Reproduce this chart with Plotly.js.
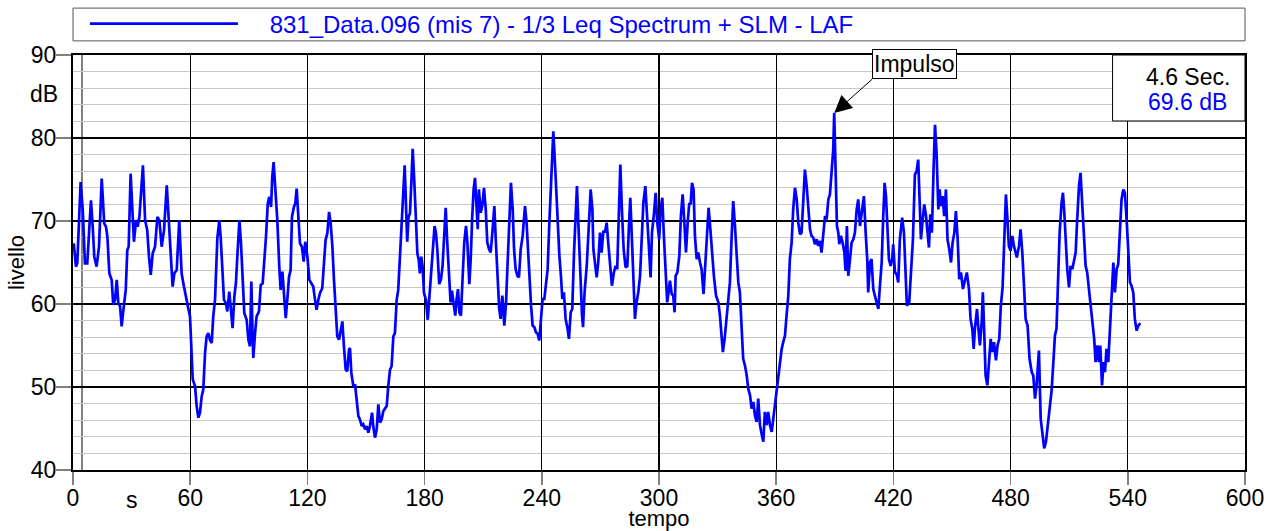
<!DOCTYPE html>
<html><head><meta charset="utf-8">
<script src="https://cdn.plot.ly/plotly-3.0.1.min.js"></script>
<style>html,body{margin:0;padding:0;background:#fff;}#chart{width:1278px;height:531px;}</style>
</head><body><div id="chart"></div>
<script>
// time (s) and level (dB)
const timeS = [
0.4,1.5,2.2,3.9,5.0,6.1,7.3,8.2,9.2,10.1,10.9,12.1,13.3,14.7,16.0,16.9,17.6,18.6,19.8,20.6,21.5,22.4,23.2,24.1,24.9,25.8,27.0,27.8,28.5,29.5,30.4,31.2,32.3,33.1,34.0,34.8,35.8,36.9,38.0,38.9,39.8,40.8,42.0,43.2,44.2,45.4,46.6,48.0,49.0,50.0,51.0,51.9,53.1,54.4,55.6,56.8,57.8,59.0,59.9,60.9,
61.3,62.5,63.3,64.2,65.0,65.9,66.7,67.6,68.4,69.3,70.1,71.0,71.8,72.7,73.9,74.9,75.6,76.4,77.3,78.3,79.0,80.0,80.9,81.7,82.6,83.4,84.3,85.2,86.0,86.9,87.7,88.9,89.8,90.6,91.3,92.0,92.3,93.2,94.0,95.2,96.1,97.1,97.8,98.8,99.7,100.5,101.4,102.0,102.7,103.6,104.6,105.6,106.3,107.2,108.0,108.9,109.7,110.6,111.4,112.1,113.1,113.8,114.5,115.4,116.2,117.2,118.1,118.9,120.0,121.0,
122.2,123.0,123.9,124.7,125.6,126.4,127.6,128.5,129.3,130.2,131.1,131.9,132.8,133.6,134.5,135.3,136.2,137.0,137.9,138.7,139.6,140.4,141.3,141.8,142.5,143.5,144.4,145.2,146.1,146.9,147.8,148.6,149.5,150.3,151.2,152.0,153.1,153.7,154.6,155.5,156.3,157.2,158.0,158.9,160.6,161.4,162.3,163.1,164.0,164.8,165.7,166.5,167.4,168.3,169.1,169.8,170.5,171.1,171.8,172.5,173.2,173.9,174.7,175.6,176.3,177.0,177.6,178.3,179.0,179.7,180.7,181.6,182.4,183.4,184.5,
185.1,185.8,186.5,187.5,188.4,189.2,190.1,190.8,191.6,192.5,193.3,194.0,195.0,195.7,196.4,197.1,197.8,198.6,199.5,200.3,201.2,201.9,202.9,203.6,204.4,205.1,205.8,206.6,207.2,207.8,208.7,209.5,210.4,211.3,212.1,213.0,213.8,214.7,215.7,216.5,217.4,218.2,218.9,219.8,220.8,221.7,222.5,223.4,224.2,225.1,225.8,226.6,227.5,228.3,229.2,230.2,231.4,232.2,233.1,233.9,234.5,235.3,236.2,237.0,237.9,238.7,239.6,240.4,241.3,242.1,243.0,243.8,244.5,245.2,245.9,
246.9,247.9,249.0,249.8,250.5,251.3,252.2,253.2,253.9,254.8,255.6,256.5,257.3,258.0,258.9,259.7,260.6,261.1,261.9,263.0,263.6,264.5,265.0,265.9,266.4,267.2,268.1,268.9,269.8,270.6,271.5,272.3,273.2,274.0,274.9,275.9,276.9,277.8,278.6,279.5,280.2,281.0,281.9,282.9,283.8,284.6,285.3,286.2,286.8,287.7,288.5,289.4,290.3,291.1,292.0,293.0,293.8,294.7,295.7,296.4,297.3,298.3,299.1,300.1,300.8,301.7,302.5,303.4,304.2,304.9,305.6,306.5,307.3,308.0,
308.5,309.4,310.4,311.2,312.1,312.9,313.8,314.7,315.5,316.2,316.9,317.7,318.4,319.3,320.1,321.0,321.8,322.8,323.7,324.6,325.4,326.3,327.1,328.1,329.2,330.4,331.2,332.1,332.7,333.6,334.6,335.5,336.3,337.2,338.0,338.9,339.7,340.6,341.4,342.3,343.1,344.0,344.9,345.7,346.6,347.4,348.3,349.1,350.0,350.8,351.7,352.5,353.4,354.2,355.1,355.9,356.8,357.7,358.5,359.4,360.2,361.1,361.9,362.8,363.6,364.5,365.3,366.2,367.0,367.9,368.7,369.6,
370.5,371.3,372.2,373.0,373.9,374.7,375.6,376.4,377.3,378.1,379.0,379.8,380.7,381.5,382.4,383.2,384.1,385.0,385.8,386.7,387.5,388.4,389.2,389.7,390.4,391.1,391.8,392.3,393.1,394.0,394.9,395.5,396.2,396.9,397.8,398.6,399.5,400.3,401.2,402.0,402.9,403.7,404.9,405.8,406.6,407.1,408.0,408.8,409.7,410.5,411.4,412.3,413.1,414.0,414.8,415.5,416.2,417.0,417.7,418.6,419.4,419.9,420.8,421.6,422.5,423.3,424.5,425.4,426.2,426.9,
428.1,429.0,430.0,431.0,431.9,432.7,433.4,434.1,435.0,435.8,436.7,437.5,438.2,438.9,439.7,440.6,441.3,442.1,443.0,443.7,444.3,445.2,446.0,446.9,447.7,448.6,449.5,450.3,451.2,452.0,452.9,453.7,454.6,455.6,456.6,457.6,458.7,459.5,460.4,461.1,461.7,462.8,463.4,464.3,465.2,465.8,466.5,467.2,468.1,468.9,469.8,470.6,471.5,472.5,473.3,474.2,475.0,475.9,476.8,477.6,478.3,479.1,480.0,480.9,481.7,482.6,483.2,484.3,485.1,486.0,486.8,487.7,488.7,489.7,
490.8,491.6,492.5,493.3,494.5,495.4,496.2,497.2,498.1,498.9,499.8,501.0,502.0,502.7,503.5,504.4,505.1,506.1,506.8,507.5,508.2,509.0,509.9,510.7,511.6,512.6,513.3,514.1,515.0,515.8,516.7,517.5,518.4,519.2,520.3,521.1,522.0,522.8,523.5,524.4,525.2,525.9,526.8,527.6,528.3,529.1,530.0,530.8,531.7,532.6,533.4,534.3,535.1,536.0,536.8,537.7,538.5,539.4,540.2,541.1,541.9,542.8,543.6,544.5,545.4,546.4
];
const levelDb = [
67.3,64.5,64.9,74.7,71.3,64.9,64.9,68.5,72.5,69.3,65.7,64.5,66.9,75.1,69.7,69.3,68.1,63.7,62.9,59.9,60.5,62.9,60.1,59.7,57.3,59.3,61.7,66.5,66.9,75.7,71.7,67.5,70.1,69.3,70.5,73.7,76.7,70.1,68.9,65.7,63.5,66.1,66.9,70.5,70.1,66.9,68.9,74.3,69.7,66.5,62.1,63.7,64.1,70.1,63.7,62.1,61.1,59.5,58.5,53.7,
50.9,50.1,47.7,46.3,46.9,48.9,49.7,54.1,56.1,56.5,55.7,55.3,58.5,60.5,67.9,70.1,68.1,64.5,60.5,60.1,59.1,61.5,59.3,57.1,60.9,62.5,66.5,70.1,67.3,62.5,58.9,58.1,55.7,54.9,62.7,55.7,53.5,56.5,58.5,59.1,62.3,62.5,64.5,68.1,72.1,72.9,71.7,75.3,77.1,73.7,70.1,64.5,61.7,63.9,60.5,58.3,60.5,63.3,64.1,70.5,71.7,72.1,73.9,70.1,67.3,66.9,65.1,67.5,65.7,62.9,
62.5,62.1,60.5,59.3,60.5,61.3,61.9,65.3,67.7,68.5,71.1,69.7,66.9,62.9,59.7,56.1,55.7,56.9,57.9,54.9,52.1,51.9,54.5,54.7,51.7,50.1,50.3,48.5,46.5,46.1,45.3,45.5,44.9,45.3,44.5,45.3,46.9,45.3,43.9,44.9,47.9,45.7,46.1,47.1,47.7,50.1,52.1,52.5,56.1,56.5,60.5,61.7,65.7,70.1,73.7,76.7,71.7,67.5,70.5,70.9,74.5,78.7,74.9,70.5,66.1,65.3,63.7,65.7,64.5,61.3,60.5,58.1,60.9,63.7,67.7,
69.4,68.6,66.6,62.4,63.0,64.6,69.4,71.6,67.4,63.4,60.2,61.6,59.8,58.6,60.6,61.8,59.0,58.6,63.4,67.4,69.4,67.4,62.4,65.4,70.6,73.8,75.2,70.6,69.0,73.8,71.0,71.8,74.0,71.4,67.4,66.6,66.2,68.6,71.8,67.4,62.2,59.4,58.2,61.0,57.4,60.2,65.0,69.4,74.6,71.4,66.6,64.2,63.4,63.2,66.6,68.2,71.8,69.8,65.4,62.6,59.8,57.4,57.2,56.6,56.4,55.6,57.8,60.6,60.6,62.2,64.2,69.4,73.8,78.6,80.8,
76.2,70.2,65.8,63.4,60.6,61.4,58.2,57.0,55.8,59.0,59.4,66.2,71.0,74.2,68.6,63.4,58.6,57.2,61.4,64.6,68.2,71.4,73.8,71.4,66.6,64.6,63.2,65.0,68.6,66.2,68.8,68.6,69.8,67.4,65.0,62.2,63.8,64.6,64.2,71.4,76.8,71.4,66.6,64.4,64.6,69.4,72.8,67.4,62.6,58.2,60.2,61.4,63.4,68.2,72.2,74.2,71.4,67.4,63.2,68.6,70.6,73.4,69.8,67.8,71.4,72.8,68.2,64.2,60.2,61.4,62.8,61.2,61.0,59.0,
63.4,63.8,65.8,70.6,73.2,70.2,66.2,69.8,72.2,72.0,74.6,73.8,68.2,65.4,66.2,65.0,64.2,61.2,64.6,68.2,71.6,69.0,66.2,63.4,61.0,60.2,58.6,56.2,54.2,55.8,58.6,61.0,62.6,68.2,72.4,69.4,65.8,62.6,61.4,57.4,53.4,52.6,51.4,49.8,49.0,47.4,48.2,46.6,45.8,48.6,45.4,44.4,43.4,47.0,45.4,47.0,45.4,44.6,46.2,48.2,49.8,51.8,53.0,54.6,55.4,56.2,58.6,61.0,65.4,67.4,71.4,74.0,
72.6,69.8,68.4,68.6,72.6,76.2,74.2,71.4,69.0,68.2,68.0,67.2,67.8,67.0,67.6,66.2,68.6,70.6,70.2,72.6,73.2,76.6,78.6,83.0,76.6,69.4,68.6,67.2,68.2,67.4,66.2,64.0,69.4,63.4,65.4,67.4,67.8,68.6,71.4,72.6,69.4,71.0,73.0,68.6,65.4,61.4,65.0,65.4,61.8,61.0,60.2,59.4,62.2,65.0,70.6,74.6,73.0,69.4,65.4,64.6,65.4,67.2,63.8,63.6,62.6,67.8,70.4,68.6,64.6,59.8,
60.2,64.6,67.8,75.6,76.0,77.4,72.6,67.8,70.2,72.0,70.6,68.6,66.8,70.8,68.6,76.6,81.6,78.2,71.4,73.8,71.8,73.0,70.6,73.8,67.8,66.6,65.0,67.4,68.6,71.2,67.8,63.0,63.8,61.8,63.0,63.8,61.8,58.2,57.0,54.6,57.0,59.4,57.4,55.0,57.8,61.4,56.6,51.4,50.2,53.4,55.8,54.2,55.4,53.2,55.0,55.8,59.8,62.0,68.6,73.2,70.6,67.0,66.4,68.2,67.0,66.2,65.6,67.0,69.0,66.2,62.2,58.2,57.4,53.4,
51.8,51.4,48.6,50.2,54.4,46.2,44.6,42.6,43.4,45.0,46.8,49.6,53.4,56.2,57.0,62.6,68.6,72.2,73.4,71.0,67.8,64.2,62.0,64.6,64.2,65.4,66.2,70.2,74.2,75.8,72.2,68.6,64.6,63.8,61.4,59.0,57.0,55.8,53.0,55.0,53.0,55.0,50.2,53.0,51.8,54.6,53.0,57.0,61.4,65.0,61.4,64.2,64.8,68.2,72.6,73.8,73.4,70.2,67.0,62.6,62.2,61.4,58.2,56.8,57.4,57.7
];
const xTicks = [0, 60, 120, 180, 240, 300, 360, 420, 480, 540, 600];
const yTicks = [40, 50, 60, 70, 80, 90];
const seriesName = '831_Data.096 (mis 7) - 1/3 Leq Spectrum + SLM - LAF';
const cursorTime = 4.6;
const cursorLevel = 69.6;
const impulseLabel = 'Impulso';

const FONT = 'Liberation Sans, Arial, Helvetica, sans-serif';
const BLUE = '#0000ff';
const GAP = '\u00a0\u00a0\u00a0\u00a0';

// impulse = maximum of the series
let iMax = 0;
for (let i = 1; i < levelDb.length; i++) if (levelDb[i] > levelDb[iMax]) iMax = i;

const trace = {
  x: timeS, y: levelDb, type: 'scatter', mode: 'lines', name: GAP + seriesName,
  line: {color: BLUE, width: 2.7}, hoverinfo: 'x+y'
};

const layout = {
  width: 1278, height: 531,
  margin: {l: 73, r: 33, t: 55, b: 61, pad: 0, autoexpand: false},
  paper_bgcolor: '#ffffff', plot_bgcolor: '#ffffff',
  font: {family: FONT, size: 23, color: '#000'},
  showlegend: true,
  legend: {
    x: 0.0102, xanchor: 'left', y: 1.0747, yanchor: 'middle', orientation: 'h',
    font: {family: FONT, size: 24, color: BLUE},
    bgcolor: 'rgba(0,0,0,0)', borderwidth: 0, itemwidth: 148
  },
  xaxis: {
    range: [0, 600], tickmode: 'array', tickvals: xTicks, ticktext: xTicks.map(String),
    showgrid: true, gridcolor: '#000', gridwidth: 1.2, zeroline: false,
    showline: true, linecolor: '#000', linewidth: 2, mirror: true,
    ticks: 'outside', ticklen: 13, tickwidth: 1.5, tickcolor: '#808080',
    ticklabelstandoff: -7,
    tickfont: {family: FONT, size: 23, color: '#000'},
    title: {text: 'tempo', font: {family: FONT, size: 22, color: '#000'}, standoff: 0},
    fixedrange: true
  },
  yaxis: {
    range: [40, 90], tickmode: 'array', tickvals: yTicks, ticktext: yTicks.map(String),
    showgrid: true, gridcolor: '#000', gridwidth: 1.2, zeroline: false,
    showline: true, linecolor: '#000', linewidth: 2, mirror: true,
    ticks: 'outside', ticklen: 15, tickwidth: 1.5, tickcolor: '#808080',
    ticklabelstandoff: -5,
    tickfont: {family: FONT, size: 23, color: '#000'},
    minor: {dtick: 2, showgrid: true, gridcolor: '#c8c8c8', gridwidth: 1, ticks: ''},
    title: {text: 'livello', font: {family: FONT, size: 22, color: '#000'}, standoff: 0},
    fixedrange: true
  },
  shapes: [
    {type: 'line', xref: 'x', yref: 'paper', x0: cursorTime, x1: cursorTime, y0: 0, y1: 1,
     line: {color: '#808080', width: 2}, layer: 'between'},
    {type: 'rect', xref: 'paper', yref: 'paper', x0: 0, x1: 1, y0: 1.034, y1: 1.113,
     line: {color: '#555', width: 1}, fillcolor: 'rgba(0,0,0,0)', layer: 'above'},
    {type: 'rect', xref: 'paper', yref: 'paper', x0: 0.887, x1: 1, y0: 0.841, y1: 1,
     line: {color: '#000', width: 1}, fillcolor: '#ffffff', layer: 'above'}
  ],
  annotations: [
    {xref: 'paper', x: 0, xanchor: 'right', xshift: -13, yref: 'y', y: 85.3, yanchor: 'middle',
     text: 'dB', showarrow: false, font: {family: FONT, size: 23, color: '#000'}},
    {xref: 'x', x: 30, xanchor: 'center', yref: 'paper', y: 0, yanchor: 'middle', yshift: -30,
     text: 's', showarrow: false, font: {family: FONT, size: 23, color: '#000'}},
    {xref: 'paper', x: 0.989, xanchor: 'right', yref: 'paper', y: 0.947, yanchor: 'middle',
     text: cursorTime.toFixed(1) + ' Sec.', showarrow: false, font: {family: FONT, size: 23, color: '#000'}},
    {xref: 'paper', x: 0.986, xanchor: 'right', yref: 'paper', y: 0.887, yanchor: 'middle',
     text: cursorLevel.toFixed(1) + ' dB', showarrow: false, font: {family: FONT, size: 23, color: BLUE}},
    {xref: 'x', yref: 'y', x: timeS[iMax], y: levelDb[iMax], text: impulseLabel,
     showarrow: true, arrowhead: 2, arrowsize: 3.5, arrowwidth: 1, arrowcolor: '#000',
     ax: 38, ay: -34, xanchor: 'left', yanchor: 'bottom',
     bgcolor: '#ffffff', bordercolor: '#000', borderwidth: 1, borderpad: 1,
     font: {family: FONT, size: 23, color: '#000'}}
  ]
};

Plotly.newPlot('chart', [trace], layout, {displayModeBar: false, staticPlot: true});
</script>
</body></html>
